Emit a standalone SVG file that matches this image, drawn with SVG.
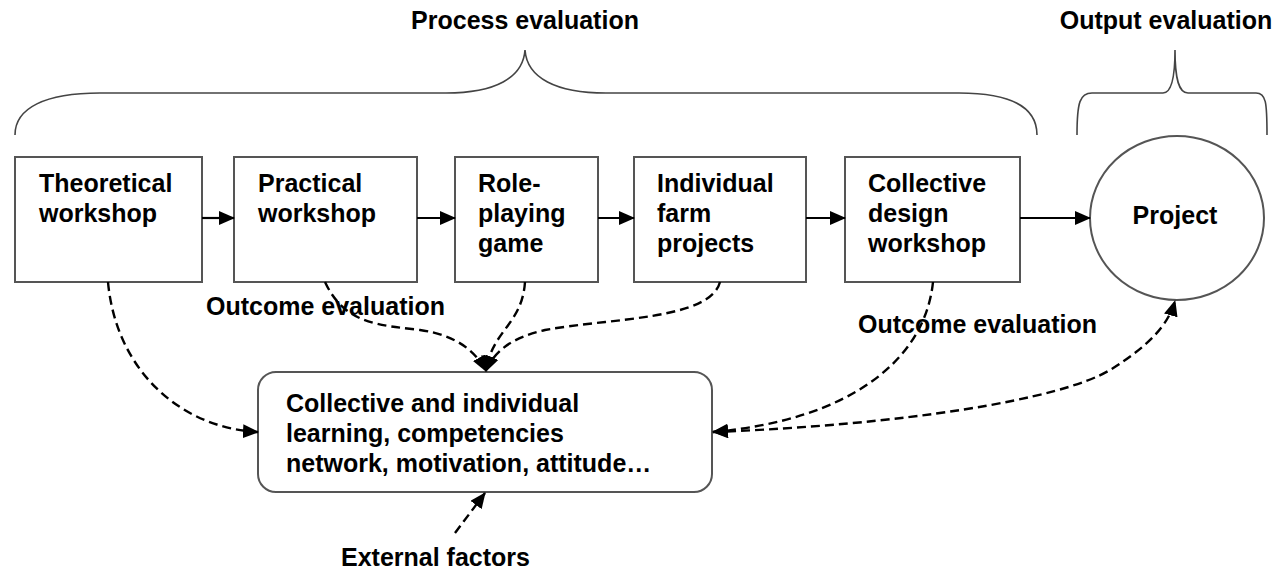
<svg xmlns="http://www.w3.org/2000/svg" width="1281" height="570" viewBox="0 0 1281 570">
<defs>
<marker id="ah" markerUnits="userSpaceOnUse" markerWidth="16" markerHeight="14" refX="15" refY="7" orient="auto-start-reverse">
<path d="M0,0 L16,7 L0,14 z" fill="#000"/>
</marker>
<style>
text{font-family:"Liberation Sans",Arial,sans-serif;font-weight:bold;font-size:25px;fill:#000}
.box{fill:#fff;stroke:#555;stroke-width:2}
.brace{fill:none;stroke:#444;stroke-width:1.6}
.solid{fill:none;stroke:#000;stroke-width:2.2;marker-end:url(#ah)}
.dash{fill:none;stroke:#000;stroke-width:2.4;stroke-dasharray:9 5}
</style>
</defs>
<rect width="1281" height="570" fill="#fff"/>

<g id="braces">
<path class="brace" d="M15,135 C15,108 45,93 100,93 L446,93 C495,93 523,78 525,50 C527,78 556,93 606,93 L959,93 C1012,93 1037,108 1037,135"/>
<path class="brace" d="M1077,135 C1077,102 1080,93 1092,93 L1163,93 C1171,93 1175,80 1175,50 C1175,80 1179,93 1188,93 L1256,93 C1266,93 1267,102 1267,135"/>
<text x="525" y="29" text-anchor="middle">Process evaluation</text>
<text x="1166" y="29" text-anchor="middle">Output evaluation</text>
</g>

<g id="n1"><rect class="box" x="15" y="157" width="187" height="125"/>
<text x="39" y="192">Theoretical</text><text x="39" y="222">workshop</text></g>
<g id="n2"><rect class="box" x="234" y="157" width="183" height="125"/>
<text x="258" y="192">Practical</text><text x="258" y="222">workshop</text></g>
<g id="n3"><rect class="box" x="455" y="157" width="143" height="125"/>
<text x="478" y="192">Role-</text><text x="478" y="222">playing</text><text x="478" y="252">game</text></g>
<g id="n4"><rect class="box" x="634" y="157" width="172" height="125"/>
<text x="657" y="192">Individual</text><text x="657" y="222">farm</text><text x="657" y="252">projects</text></g>
<g id="n5"><rect class="box" x="845" y="157" width="175" height="125"/>
<text x="868" y="192">Collective</text><text x="868" y="222">design</text><text x="868" y="252">workshop</text></g>
<g id="n6"><ellipse cx="1177" cy="218" rx="87" ry="82" fill="#fff" stroke="#555" stroke-width="2"/>
<text x="1175" y="224" text-anchor="middle">Project</text></g>
<g id="n7"><rect class="box" x="258" y="372" width="454" height="120" rx="18" ry="18"/>
<text x="286" y="412">Collective and individual</text>
<text x="286" y="442">learning, competencies</text>
<text x="286" y="472">network, motivation, attitude…</text></g>

<g id="connectors">
<path class="solid" d="M202,218 L234,218"/>
<path class="solid" d="M417,218 L455,218"/>
<path class="solid" d="M598,218 L634,218"/>
<path class="solid" d="M806,218 L845,218"/>
<path class="solid" d="M1020,218 L1090,218"/>
<path class="dash" marker-end="url(#ah)" d="M108,282 C116,370 180,428 258,432"/>
<path class="dash" marker-end="url(#ah)" d="M325,282 C345,325 380,325 420,330 C455,335 475,350 486,371"/>
<path class="dash" marker-end="url(#ah)" d="M525,282 C522,325 492,330 486,371"/>
<path class="dash" marker-end="url(#ah)" d="M720,282 C710,320 610,318 545,330 C510,338 494,352 486,371"/>
<path class="dash" marker-end="url(#ah)" d="M933,282 C925,360 850,420 713,432"/>
<path class="dash" marker-start="url(#ah)" marker-end="url(#ah)" d="M713,432 C900,425 1060,400 1110,370 C1150,345 1168,325 1175,301"/>
<path class="dash" marker-end="url(#ah)" d="M455,533 L485,493"/>
</g>

<g id="labels">
<text x="206" y="315">Outcome evaluation</text>
<text x="858" y="333">Outcome evaluation</text>
<text x="341" y="566">External factors</text>
</g>
</svg>
